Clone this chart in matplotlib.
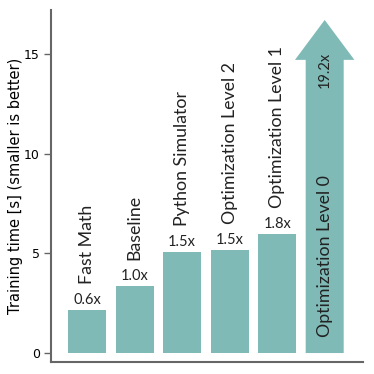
import matplotlib
matplotlib.use("Agg")
import matplotlib.pyplot as plt

categories = ["Fast Math", "Baseline", "Python Simulator", "Optimization Level 2", "Optimization Level 1", "Optimization Level 0"]
times = [2.16, 3.37, 5.07, 5.18, 5.98]
speedups = ["0.6x", "1.0x", "1.5x", "1.5x", "1.8x", "19.2x"]
arrow_top = 16.7

color = "#7fbab6"
txt_font = "Lato"

fig = plt.figure(figsize=(3.74, 3.74), dpi=100)
ax = fig.add_axes([51/374, 1-362/374, (362.7-51)/374, (362-10)/374])

x = list(range(len(categories)))
ax.bar(x[:5], times, width=0.8, color=color)
ax.arrow(x[5], 0, 0, arrow_top, width=0.8, head_width=1.25, head_length=2.0,
         length_includes_head=True, color=color, lw=0)

for i in range(5):
    ax.text(x[i], times[i] + 0.15, speedups[i], ha="center", va="bottom",
            fontsize=10.5, family=txt_font, color="#222222")
    ax.text(x[i], times[i] + 1.3, categories[i], ha="center", va="bottom",
            rotation=90, fontsize=12.8, family=txt_font, color="#222222")
ax.text(x[5], 0.8, categories[5], ha="center", va="bottom", rotation=90,
        fontsize=12.8, family=txt_font, color="#222222")
ax.text(x[5], 14.2, speedups[5], ha="center", va="center", rotation=90,
        fontsize=10.5, family=txt_font, color="#222222")

ax.set_xlim(-0.76, 5.8)
ax.set_ylim(-0.45, 17.2)
ax.set_yticks([0, 5, 10, 15])
ax.set_xticks([])
ax.tick_params(axis="y", labelsize=9, length=5, width=1, color="#666666", pad=3)
for s in ["top", "right"]:
    ax.spines[s].set_visible(False)
for s in ["left", "bottom"]:
    ax.spines[s].set_color("#666666")
    ax.spines[s].set_linewidth(1.5)
ax.set_ylabel("Training time [s] (smaller is better)", fontsize=10.5, labelpad=1)

fig.savefig("out.png", dpi=100)
